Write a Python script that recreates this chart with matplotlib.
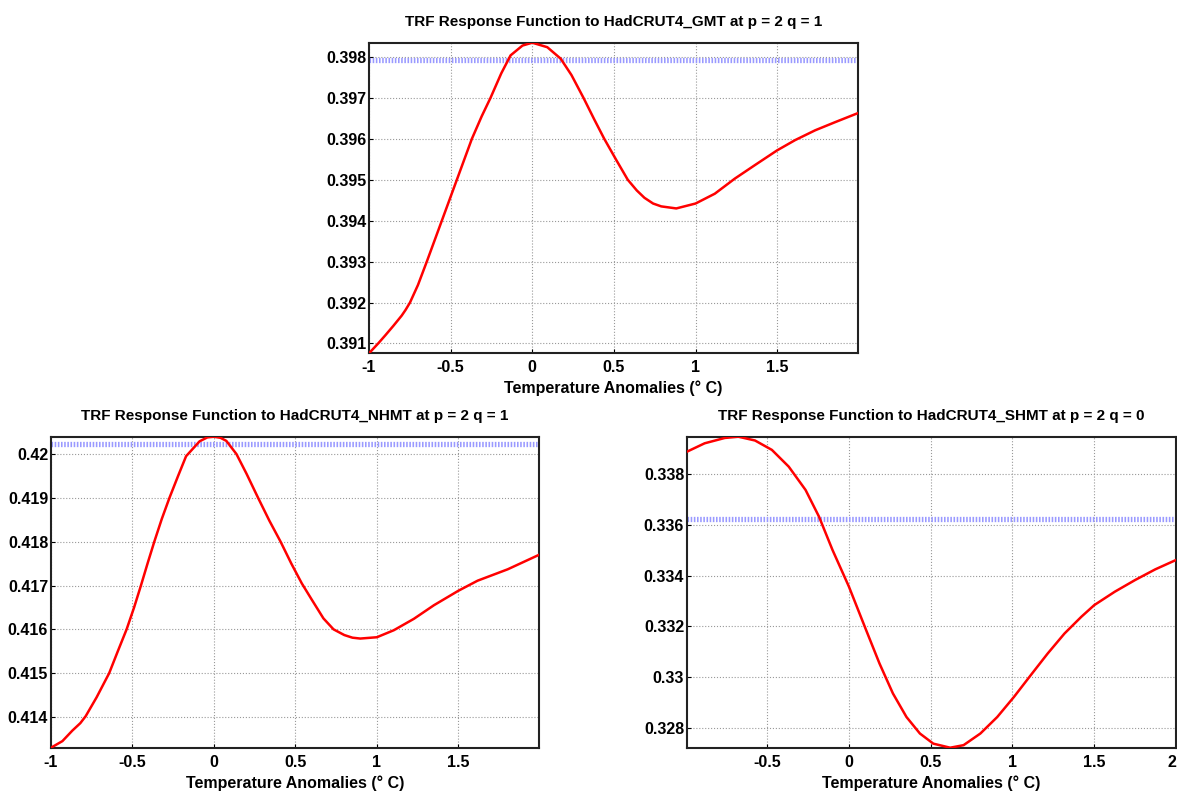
import matplotlib
matplotlib.use("Agg")
import matplotlib.pyplot as plt
import matplotlib.transforms as mtransforms
from matplotlib.ticker import FuncFormatter, MultipleLocator

plt.rcParams['font.family'] = ['Liberation Sans', 'DejaVu Sans']
plt.rcParams['font.weight'] = 'bold'

# ---- data ----
gmt_x = [-1.0, -0.944, -0.90, -0.851, -0.80, -0.776, -0.749, -0.70, -0.646, -0.60, -0.554, -0.462, -0.370,
         -0.31, -0.256, -0.19, -0.133, -0.06, 0.0,
         0.092, 0.174, 0.24, 0.314, 0.379, 0.441, 0.515, 0.585, 0.64, 0.687, 0.74, 0.79, 0.882, 1.0, 1.118,
         1.241, 1.364, 1.5, 1.61, 1.733, 1.856, 1.995]
gmt_y = [0.39076, 0.39100, 0.39120, 0.39143, 0.39168, 0.39182, 0.39200, 0.39243, 0.39300, 0.39350, 0.39400, 0.39500, 0.39600,
         0.39655, 0.39700, 0.39760, 0.39804, 0.39828, 0.39835,
         0.39824, 0.39796, 0.39756, 0.39700, 0.39648, 0.39600, 0.39548, 0.39500, 0.39474, 0.39456, 0.39442, 0.39435, 0.39430, 0.39442, 0.39466,
         0.39503, 0.39536, 0.39572, 0.39597, 0.39621, 0.39641, 0.39663]
gmt_ref = 0.397927

nh_x = [-1.0, -0.93, -0.869, -0.82, -0.787, -0.72, -0.643, -0.59, -0.536, -0.49, -0.448, -0.406, -0.366, -0.32,
        -0.273, -0.22, -0.171, -0.088, -0.04, 0.0,
        0.04, 0.076, 0.138, 0.20, 0.271, 0.34, 0.409, 0.475, 0.539, 0.60, 0.672, 0.734, 0.80, 0.85, 0.898, 1.0, 1.104,
        1.227, 1.35, 1.5, 1.618, 1.803, 1.995]
nh_y = [0.41330, 0.41345, 0.41369, 0.41386, 0.41402, 0.41445, 0.41500, 0.41550, 0.41600, 0.41650, 0.41700, 0.41752, 0.41800, 0.41852,
        0.41900, 0.41950, 0.41995, 0.42029, 0.42038, 0.420395,
        0.42037, 0.42030, 0.42000, 0.41955, 0.41900, 0.41848, 0.41800, 0.41750, 0.41705, 0.41668, 0.41625, 0.41600, 0.41587, 0.41581, 0.41579, 0.41582, 0.41598,
        0.41624, 0.41655, 0.41688, 0.41711, 0.41737, 0.41770]
nh_ref = 0.420229

sh_x = [-0.99, -0.882, -0.759, -0.676, -0.574, -0.471, -0.368, -0.265, -0.183, -0.1, 0.0,
        0.105, 0.187, 0.269, 0.352, 0.434, 0.516, 0.619, 0.701, 0.804, 0.907, 1.009,
        1.112, 1.215, 1.318, 1.421, 1.5, 1.626, 1.75, 1.873, 2.0]
sh_y = [0.33889, 0.33922, 0.33943, 0.33948, 0.33933, 0.33896, 0.33830, 0.33738, 0.33633, 0.33501, 0.33357,
        0.33186, 0.33054, 0.32936, 0.32843, 0.32778, 0.32738, 0.32722, 0.32732, 0.32778, 0.32843, 0.32922,
        0.33008, 0.33093, 0.33172, 0.33238, 0.33284, 0.33337, 0.33383, 0.33425, 0.33462]
sh_ref = 0.33625

titles = ["TRF Response Function to HadCRUT4_GMT at p = 2 q = 1",
          "TRF Response Function to HadCRUT4_NHMT at p = 2 q = 1",
          "TRF Response Function to HadCRUT4_SHMT at p = 2 q = 0"]
xlabel = "Temperature Anomalies (\u00b0 C)"

fig = plt.figure(figsize=(11.77, 7.94), dpi=100)
W, H = 1177, 794

def px_axes(l, t, r, b):
    return fig.add_axes([l / W, 1 - b / H, (r - l) / W, (b - t) / H])

ax1 = px_axes(369, 42.7, 858, 353.3)
ax2 = px_axes(51, 436.7, 539, 747.7)
ax3 = px_axes(687, 436.7, 1176, 747.7)

fmt = FuncFormatter(lambda v, p: f"{v:g}")

def draw(ax, x, y, ref, title, ystep, xlim):
    ax.axhline(ref, color='#9a9aff', lw=3.8, dashes=(0.3, 0.3), zorder=2)
    ax.plot(x, y, color='red', lw=1.8, zorder=3, solid_joinstyle='round')
    ax.set_xlim(*xlim)
    ax.set_ylim(min(y), max(y))
    ax.xaxis.set_major_locator(MultipleLocator(0.5))
    ax.yaxis.set_major_locator(MultipleLocator(ystep))
    ax.xaxis.set_major_formatter(fmt)
    ax.yaxis.set_major_formatter(fmt)
    ax.grid(True, linestyle=':', color='#999999', lw=0.8)
    ax.tick_params(direction='in', length=3, width=0.8, labelsize=11.5)
    ax.tick_params(axis='x', pad=5)
    ax.tick_params(axis='y', pad=2)
    for lab in ax.get_xticklabels() + ax.get_yticklabels():
        lab.set_fontweight('bold')
    for s in ax.spines.values():
        s.set_linewidth(1.5)
        s.set_color('#222222')
    ax.set_title(title, fontsize=11, fontweight='bold', pad=12)
    ax.set_xlabel(xlabel, fontsize=11.5, fontweight='bold', labelpad=4)

draw(ax1, gmt_x, gmt_y, gmt_ref, titles[0], 0.001, (-1, 1.995))
draw(ax2, nh_x, nh_y, nh_ref, titles[1], 0.001, (-1, 1.995))
draw(ax3, sh_x, sh_y, sh_ref, titles[2], 0.002, (-0.99, 2))

# keep the last tick label ("2") of the right panel inside the figure
fig.canvas.draw()
shift = mtransforms.ScaledTranslation(-4 / 100, 0, fig.dpi_scale_trans)
for lab in ax3.get_xticklabels():
    if lab.get_text() == '2':
        lab.set_transform(lab.get_transform() + shift)

fig.savefig("out.png", dpi=100)
